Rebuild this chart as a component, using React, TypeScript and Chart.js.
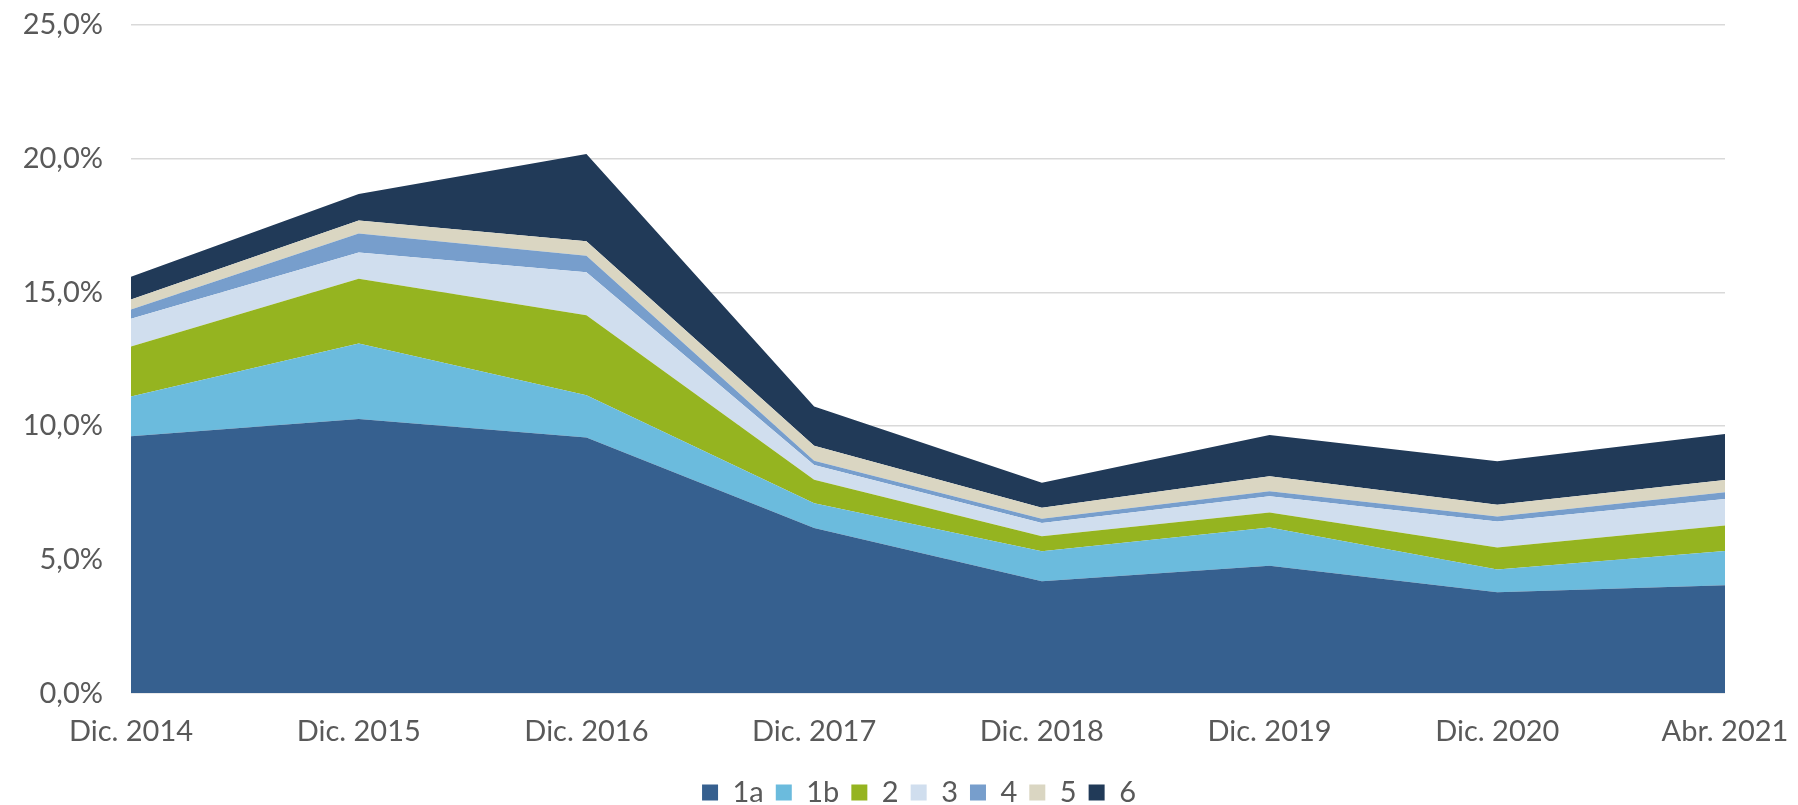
import React, { useEffect, useRef } from "react";
import { Chart, registerables } from "chart.js";

Chart.register(...registerables);

const categories = ["Dic. 2014", "Dic. 2015", "Dic. 2016", "Dic. 2017", "Dic. 2018", "Dic. 2019", "Dic. 2020", "Abr. 2021"];
const s1a = [9.61, 10.26, 9.57, 6.18, 4.19, 4.77, 3.78, 4.04];
const s1b = [1.49, 2.82, 1.58, 0.93, 1.12, 1.43, 0.85, 1.28];
const s2 = [1.87, 2.43, 2.99, 0.88, 0.56, 0.56, 0.82, 0.95];
const s3 = [1.04, 0.98, 1.61, 0.55, 0.50, 0.61, 0.97, 1.00];
const s4 = [0.35, 0.71, 0.62, 0.16, 0.16, 0.19, 0.19, 0.25];
const s5 = [0.37, 0.49, 0.54, 0.56, 0.41, 0.56, 0.44, 0.46];
const s6 = [0.85, 0.99, 3.26, 1.47, 0.93, 1.54, 1.63, 1.72];
const seriesNames = ["1a", "1b", "2", "3", "4", "5", "6"];
const yTicks = [0, 5, 10, 15, 20, 25];

const colors = ["#36608F", "#6BBBDD", "#95B420", "#D0DEEE", "#779ECC", "#DAD6C2", "#213A58"];
const FONT = "Lato, 'Open Sans', sans-serif";
const TEXT = "#595959";

const legendShift = {
  id: "legendShift",
  afterLayout(chart: any) {
    const l = chart.legend;
    const a = chart.chartArea;
    if (!l || !a) return;
    const target = (a.left + a.right) / 2 - 9;
    const shift = target - (l.left + l.right) / 2;
    l.left += shift;
    l.right += shift;
  },
};

export default function App() {
  const ref = useRef<HTMLCanvasElement>(null);
  useEffect(() => {
    document.body.style.margin = "0";
    const series = [s1a, s1b, s2, s3, s4, s5, s6];
    const chart = new Chart(ref.current!, {
      type: "line",
      data: {
        labels: categories,
        datasets: series.map((d, i) => ({
          label: seriesNames[i],
          data: d,
          backgroundColor: colors[i],
          borderColor: colors[i],
          borderWidth: 0,
          pointRadius: 0,
          fill: i === 0 ? "origin" : "-1",
          tension: 0,
        })),
      },
      plugins: [legendShift],
      options: {
        responsive: false,
        animation: false,
        layout: { padding: { top: 25, right: 73, left: 0, bottom: -12 } },
        plugins: {
          tooltip: { enabled: false },
          legend: {
            position: "bottom",
            labels: {
              boxWidth: 16,
              boxHeight: 16,
              padding: 12,
              color: TEXT,
              font: { family: FONT, size: 29 },
            },
          },
        },
        scales: {
          x: {
            grid: { display: false, drawTicks: false },
            border: { display: false },
            afterFit: (s: any) => {
              s.height -= 4;
              s.paddingLeft = 0;
              s.paddingRight = 0;
            },
            ticks: { color: TEXT, font: { family: FONT, size: 29 }, padding: 21, maxRotation: 0, autoSkip: false },
          },
          y: {
            stacked: true,
            min: 0,
            max: 25,
            afterFit: (s: any) => {
              s.width = 131;
              s.paddingTop = 0;
              s.paddingBottom = 0;
            },
            afterBuildTicks: (s: any) => { s.ticks = yTicks.map((v) => ({ value: v })); },
            grid: { color: "#D9D9D9", lineWidth: 1.5, drawTicks: false },
            border: { display: false },
            ticks: {
              color: TEXT,
              font: { family: FONT, size: 29 },
              padding: 28,
              callback: (v: any) => Number(v).toFixed(1).replace(".", ",") + "%",
            },
          },
        },
      },
    });
    return () => chart.destroy();
  }, []);
  return (
    <div style={{ width: 1798, height: 805 }}>
      <canvas ref={ref} width={1798} height={805} style={{ display: "block" }} />
    </div>
  );
}
